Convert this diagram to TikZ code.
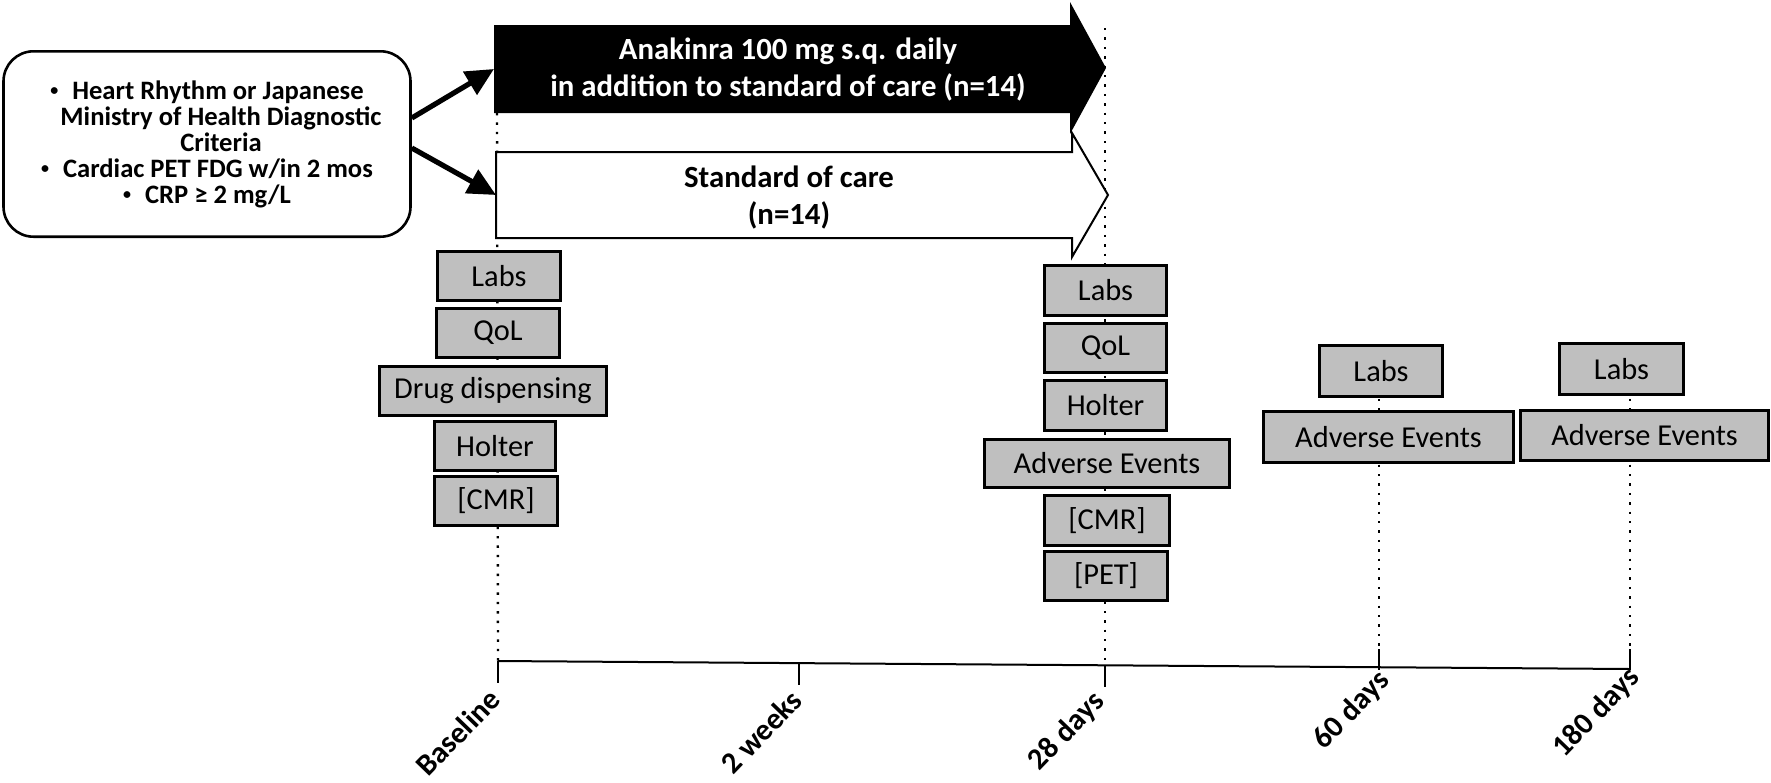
\documentclass[tikz,border=0pt]{standalone}
\usepackage{fontspec}
\setmainfont{Carlito}
\usetikzlibrary{arrows.meta}
\definecolor{boxgray}{RGB}{191,191,191}
\newcommand{\smallbul}{{\fontsize{8}{8}\selectfont\raisebox{1.6pt}{•}}\hspace{7pt}}
\begin{document}
\begin{tikzpicture}[x=0.5pt,y=-0.5pt,
  evt/.style={draw=black, line width=1.5pt, fill=boxgray, inner sep=0pt, font=\fontsize{15.2}{18}\selectfont},
  dots/.style={line width=1.2pt, dash pattern=on 1.2pt off 3.5pt},
  bigarrow/.style={line width=2.6pt, -{Triangle[length=14pt,width=13pt]}},
  axlabel/.style={font=\bfseries\fontsize{15.2}{17}\selectfont, rotate=46, anchor=east, inner sep=0pt},
  tick/.style={line width=0.9pt},
  armtext/.style={font=\bfseries\fontsize{15.4}{18.5}\selectfont, align=center, inner sep=0pt}
]
\useasboundingbox (0,0) rectangle (1771,782);

% axis coordinates
\coordinate (t0) at (498,661);
\coordinate (t1) at (799,663);
\coordinate (t2) at (1105,665);
\coordinate (t3) at (1379,668);
\coordinate (t4) at (1630,669);
% tops of the dotted guide lines
\coordinate (top0) at (497,113);
\coordinate (top1) at (1105,28);
\coordinate (top3) at (1379,380);
\coordinate (top4) at (1630,380);

\draw[dots] (top0) -- (t0);
\draw[dots] (top1) -- (t2);
\draw[dots] (top3) -- (t3);
\draw[dots] (top4) -- (t4);

% treatment arms
\fill[black] (494,25) -- (1070,25) -- (1070,2) -- (1106,68) -- (1070,134) -- (1070,113) -- (494,113) -- cycle;
\draw[line width=1pt, fill=white] (496,152) -- (1072,152) -- (1072,133) -- (1108,195) -- (1072,257) -- (1072,238) -- (496,238) -- cycle;
\coordinate (blkL) at (494,69);
\coordinate (whtL) at (496,195);
\node[armtext, text=white] (anak) at (788,70) {Anakinra 100 mg s.q. daily\\in addition to standard of care (n=14)};
\node[armtext] (soc) at (789,198) {Standard of care\\(n=14)};

% inclusion criteria
\node[draw, line width=1.3pt, rounded corners=15pt, minimum width=203.5pt, minimum height=92.7pt,
      align=center, inner sep=0pt, font=\bfseries\fontsize{13.3}{13}\selectfont] (crit) at (207,144)
  {\smallbul Heart Rhythm or Japanese\\
   \hspace*{14pt}Ministry of Health Diagnostic\\
   \hspace*{14pt}Criteria\\
   \smallbul Cardiac PET FDG w/in 2 mos\\
   \smallbul CRP ≥ 2 mg/L};
\draw[bigarrow] ([yshift=13pt]crit.east) -- (blkL);
\draw[bigarrow] ([yshift=-2pt]crit.east) -- (whtL);

% baseline column
\node[evt, minimum width=61.5pt, minimum height=24.5pt] (L0) at (499,276) {Labs};
\node[evt, minimum width=61.5pt, minimum height=24.5pt] (Q0) at (498,333) {QoL};
\node[evt, minimum width=113.5pt, minimum height=24.5pt] (D0) at (493,391) {Drug dispensing};
\node[evt, minimum width=60.5pt, minimum height=24.5pt] (H0) at (495,446) {Holter};
\node[evt, minimum width=61.5pt, minimum height=24.5pt] (C0) at (496,501) {[CMR]};

% 28 days column
\node[evt, minimum width=61pt, minimum height=25pt] (L1) at (1105.5,290.5) {Labs};
\node[evt, minimum width=61pt, minimum height=24.5pt] (Q1) at (1105.5,348) {QoL};
\node[evt, minimum width=61pt, minimum height=25pt] (H1) at (1105.5,405.5) {Holter};
\node[evt, minimum width=122.5pt, minimum height=24pt] (A1) at (1107,463.5) {Adverse Events};
\node[evt, minimum width=62.5pt, minimum height=25pt] (C1) at (1107,520.5) {[CMR]};
\node[evt, minimum width=61.5pt, minimum height=24.5pt] (P1) at (1106,576) {[PET]};

% 60 days column
\node[evt, minimum width=61.5pt, minimum height=25.5pt] (L2) at (1381,371) {Labs};
\node[evt, minimum width=125pt, minimum height=25.5pt] (A2) at (1388.5,437) {Adverse Events};

% 180 days column
\node[evt, minimum width=62pt, minimum height=25.5pt] (L3) at (1621.5,369) {Labs};
\node[evt, minimum width=124pt, minimum height=25pt] (A3) at (1644.5,435.5) {Adverse Events};

% time axis
\draw[line width=1pt] (t0) -- (t4);
\draw[tick] (t0) -- ([yshift=-11pt]t0);
\draw[tick] (t1) -- ([yshift=-11pt]t1);
\draw[tick] (t2) -- ([yshift=-11pt]t2);
\draw[tick] ([yshift=9.5pt]t3) -- ([yshift=-1pt]t3);
\draw[tick] ([yshift=10pt]t4) -- ([yshift=-0.5pt]t4);

\node[axlabel] (lb0) at (495,694) {Baseline};
\node[axlabel] (lb1) at (797,695) {2 weeks};
\node[axlabel] (lb2) at (1100,697) {28 days};
\node[axlabel] (lb3) at (1385,676) {60 days};
\node[axlabel] (lb4) at (1635,673) {180 days};
\end{tikzpicture}
\end{document}
